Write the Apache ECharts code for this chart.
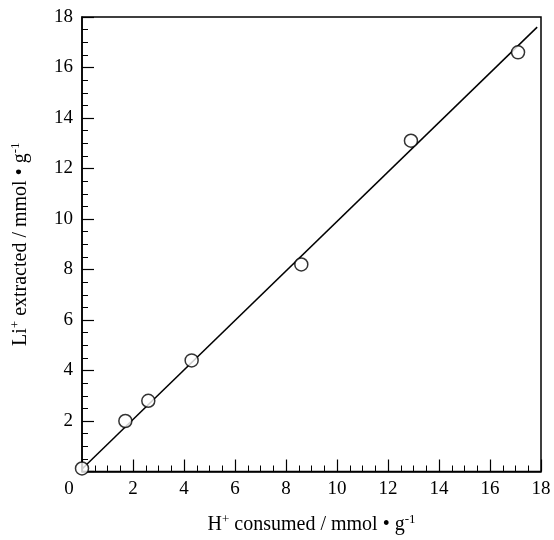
<!DOCTYPE html>
<html>
<head>
<meta charset="utf-8">
<script src="https://cdn.jsdelivr.net/npm/echarts@6/dist/echarts.min.js"></script>
<style>
  html, body { margin: 0; padding: 0; background: #fff; }
  #chart { width: 554px; height: 540px; }
</style>
</head>
<body>
<div id="chart"></div>
<script>
// Measured points: H+ consumed vs Li+ extracted (mmol/g)
const hConsumed = [0.0, 1.7, 2.6, 4.3, 8.6, 12.9, 17.1];
const liExtracted = [0.12, 2.0, 2.8, 4.4, 8.2, 13.1, 16.6];

// Straight-line fit drawn across the data
const fitX = [0.0, 17.85];
const fitY = [0.1, 17.6];

// Axis ranges
const axisMin = 0;
const axisMax = 18;
const axisStep = 2;

const points = hConsumed.map((x, i) => [x, liExtracted[i]]);
const fitLine = fitX.map((x, i) => [x, fitY[i]]);

const serif = '"Liberation Serif", "Times New Roman", serif';

const supStyle = { fontFamily: serif, fontSize: 13, color: '#000', padding: [0, 0, 10, 0] };
const mainStyle = { fontFamily: serif, fontSize: 20, color: '#000' };

const chart = echarts.init(document.getElementById('chart'), null, { renderer: 'canvas' });

const axisCommon = {
  type: 'value',
  min: axisMin,
  max: axisMax,
  interval: axisStep,
  axisLine: { show: true, lineStyle: { color: '#000', width: 1.5 } },
  axisTick: { show: true, inside: true, length: 12, lineStyle: { color: '#000', width: 1.2 } },
  minorTick: { show: true, splitNumber: 4, length: 6, lineStyle: { color: '#000', width: 1 } },
  splitLine: { show: false },
  nameLocation: 'middle'
};

chart.setOption({
  backgroundColor: '#fff',
  animation: false,
  grid: {
    left: 82, right: 13, top: 17, bottom: 63,
    show: true, borderColor: '#000', borderWidth: 1.5, backgroundColor: 'transparent'
  },
  xAxis: Object.assign({}, axisCommon, {
    name: '{m|H}{s|+}{m| consumed / mmol • g}{s|-1}',
    nameGap: 42,
    nameTextStyle: { rich: { m: mainStyle, s: supStyle } },
    axisLabel: {
      margin: 8,
      fontFamily: serif,
      fontSize: 19,
      color: '#000',
      formatter: v => (v === 0 ? '{z|0}' : String(v)),
      rich: { z: { fontFamily: serif, fontSize: 19, color: '#000', padding: [0, 26, 0, 0] } }
    }
  }),
  yAxis: Object.assign({}, axisCommon, {
    name: '{m|Li}{s|+}{m| extracted / mmol • g}{s|-1}',
    nameGap: 50,
    nameRotate: 90,
    nameTextStyle: { rich: { m: mainStyle, s: supStyle } },
    axisLabel: {
      margin: 9,
      fontFamily: serif,
      fontSize: 19,
      color: '#000',
      showMinLabel: false
    }
  }),
  series: [
    {
      type: 'line',
      data: fitLine,
      symbol: 'none',
      lineStyle: { color: '#000', width: 1.5 },
      z: 2
    },
    {
      type: 'scatter',
      data: points,
      symbol: 'circle',
      symbolSize: 13,
      clip: false,
      itemStyle: { color: '#fff', borderColor: '#000', borderWidth: 1.5 },
      z: 3
    }
  ]
});
</script>
</body>
</html>
